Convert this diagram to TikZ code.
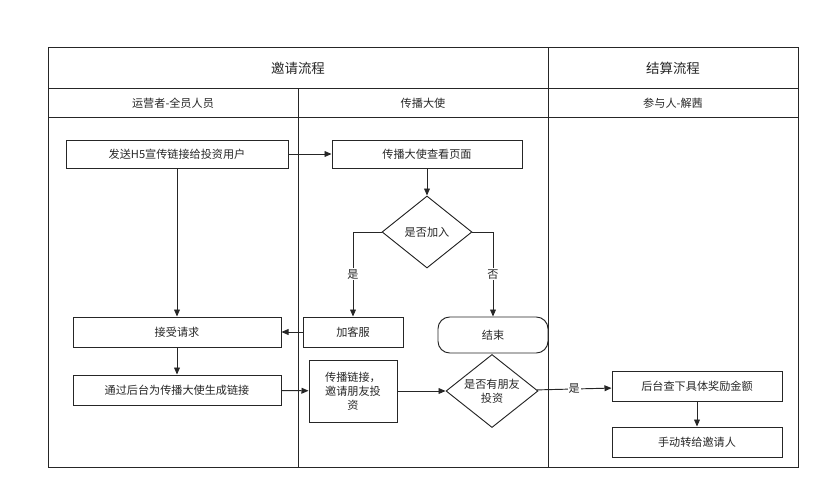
\documentclass[tikz,border=0pt]{standalone}
\usepackage{fontspec}
\setmainfont{Noto Sans CJK SC}
\usetikzlibrary{shapes.geometric,arrows.meta}
\tikzset{
  box/.style={draw, thick, minimum height=28*0.03cm, inner sep=1pt, font=\fontsize{9.5}{12}\selectfont},
  choice/.style={draw, thick, diamond, aspect=1.25, inner sep=1pt, font=\fontsize{9.5}{12}\selectfont},
  flow/.style={-{Triangle[length=6pt,width=5pt]}, thick},
  tag/.style={fill=white, font=\fontsize{9.5}{12}\selectfont, inner sep=1pt}
}
\begin{document}
\begin{tikzpicture}[x=0.03cm,y=-0.03cm, color=black!85]
\useasboundingbox (0,0) rectangle (830,500);
% lanes
\draw[thick] (48,47) rectangle (798,467);
\draw[thick] (48,88)--(798,88) (48,117)--(798,117);
\draw[thick] (548,47)--(548,467) (298,88)--(298,467);
\node[font=\fontsize{11.5}{14}\selectfont] (h1) at (298,68) {邀请流程};
\node[font=\fontsize{11.5}{14}\selectfont] (h2) at (673,68) {结算流程};
\node[font=\fontsize{9.5}{12}\selectfont] (l1) at (173,103) {运营者-全员人员};
\node[font=\fontsize{9.5}{12}\selectfont] (l2) at (423,103) {传播大使};
\node[font=\fontsize{9.5}{12}\selectfont] (l3) at (673,103) {参与人-解茜};
% nodes
\node[box, minimum width=222*0.03cm] (send) at (177,154) {发送H5宣传链接给投资用户};
\node[box, minimum width=190*0.03cm] (view) at (427,154) {传播大使查看页面};
\node[choice, minimum width=90*0.03cm, minimum height=72*0.03cm] (join) at (427,232) {是否加入};
\node[box, minimum width=208*0.03cm, minimum height=30*0.03cm] (accept) at (177,332) {接受请求};
\node[box, minimum width=100*0.03cm, minimum height=30*0.03cm] (service) at (353,332) {加客服};
\node[box, rounded corners=10pt, minimum width=110*0.03cm, minimum height=36*0.03cm] (stop) at (493,335) {结束};
\node[box, minimum width=208*0.03cm, minimum height=30*0.03cm] (gen) at (177,390) {通过后台为传播大使生成链接};
\node[box, minimum width=88*0.03cm, minimum height=62*0.03cm, align=center] (spread) at (353,391) {传播链接，\\邀请朋友投\\资};
\node[choice, minimum width=92*0.03cm, minimum height=70*0.03cm, align=center] (friend) at (492,391) {是否有朋友\\投资};
\node[box, minimum width=170*0.03cm, minimum height=30*0.03cm] (check) at (697,386) {后台查下具体奖励金额};
\node[box, minimum width=170*0.03cm, minimum height=30*0.03cm] (pay) at (697,442) {手动转给邀请人};
% connectors
\draw[flow] (send) -- (view);
\draw[flow] (send) -- (accept);
\draw[flow] (view) -- (join);
\draw[flow] (join.west) -| node[tag, pos=0.75] {是} (service.north);
\draw[flow] (join.east) -| node[tag, pos=0.75] {否} (stop.north);
\draw[flow] (service) -- (accept);
\draw[flow] (accept) -- (gen);
\draw[flow] (gen) -- (spread);
\draw[flow] (spread) -- (friend);
\draw[flow] (friend) -- node[tag, pos=0.5] {是} (check);
\draw[flow] (check) -- (pay);
\end{tikzpicture}
\end{document}
